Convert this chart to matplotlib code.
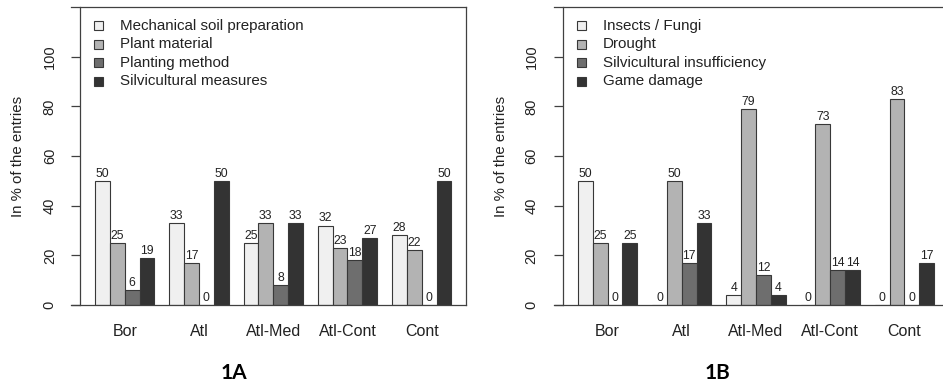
import matplotlib
matplotlib.use("Agg")
import matplotlib.pyplot as plt
from matplotlib.patches import Rectangle
import numpy as np

plt.rcParams['font.family'] = ['Liberation Sans', 'DejaVu Sans']

regions = ["Bor", "Atl", "Atl-Med", "Atl-Cont", "Cont"]

series_a = ["Mechanical soil preparation", "Plant material", "Planting method", "Silvicultural measures"]
mech_soil = [50, 33, 25, 32, 28]
plant_material = [25, 17, 33, 23, 22]
planting_method = [6, 0, 8, 18, 0]
silvi_measures = [19, 50, 33, 27, 50]

series_b = ["Insects / Fungi", "Drought", "Silvicultural insufficiency", "Game damage"]
insects_fungi = [50, 0, 4, 0, 0]
drought = [25, 50, 79, 73, 83]
silvi_insuff = [0, 17, 12, 14, 0]
game_damage = [25, 33, 4, 14, 17]

yticks = [0, 20, 40, 60, 80, 100]
panel_titles = ["1A", "1B"]

colors = ["#F0F0F0", "#B3B3B3", "#6E6E6E", "#333333"]
edge = "#383838"
txt = "#222222"

W, H = 943, 386
fig = plt.figure(figsize=(W / 100, H / 100), dpi=100)

ax_w_px = 386.0
ax_h_px = 298.0
axes_left_px = [80.2, 563.0]
ax_bottom_px = 305.0


def draw_panel(ax, data, labels, title, title_x, pad):
    n_series = len(data)
    n_groups = len(regions)
    for j, vals in enumerate(data):
        xs = np.array([1 + (n_series + 1) * g + j for g in range(n_groups)]) + 0.5
        ax.bar(xs, vals, width=1.0, color=colors[j], edgecolor=edge, linewidth=0.8, zorder=2)
        for x, v in zip(xs, vals):
            ax.annotate(str(v), (x, v), xytext=(0, 3), textcoords="offset points",
                        ha="center", va="baseline", fontsize=8.8, color=txt)
    centers = [1 + (n_series + 1) * g + n_series / 2 for g in range(n_groups)]
    ax.set_xlim(0, 26)
    ax.set_ylim(0, 120)
    ax.set_xticks(centers)
    ax.set_xticklabels(regions, fontsize=11.5, color=txt)
    ax.tick_params(axis="x", length=0, pad=13.5)
    ax.set_yticks(yticks)
    ax.set_yticklabels([str(t) for t in yticks], rotation=90, va="center", fontsize=10.5, color=txt)
    ax.tick_params(axis="y", length=6.8, width=0.9, color="#404040", pad=pad, direction="out")
    for s in ["top", "bottom", "right"]:
        ax.spines[s].set_visible(False)
    ax.spines["left"].set_color("#404040")
    ax.spines["left"].set_linewidth(0.9)
    ext = -9.5 / ax_w_px
    ax.plot([ext, 1], [0, 0], transform=ax.transAxes, clip_on=False, color="#404040", lw=0.9, zorder=3)
    ax.plot([ext, 1], [1, 1], transform=ax.transAxes, clip_on=False, color="#404040", lw=0.9, zorder=3)
    ax.plot([1, 1], [0, 1], transform=ax.transAxes, clip_on=False, color="#404040", lw=0.9, zorder=3)
    ax.set_ylabel("In % of the entries", fontsize=10.8, color=txt, va="center")
    ax.yaxis.set_label_coords(-62.0 / ax_w_px, 0.5)
    # legend
    row_y_px = [25.8, 44.3, 62.8, 81.3]
    for j, lab in enumerate(labels):
        yc = 1 - (row_y_px[j] - 7.0) / ax_h_px
        box = Rectangle((14.0 / ax_w_px, yc - 4.5 / ax_h_px), 9.0 / ax_w_px, 9.0 / ax_h_px,
                        transform=ax.transAxes, facecolor=colors[j], edgecolor=edge,
                        linewidth=0.8, clip_on=False)
        ax.add_patch(box)
        ax.text(40.0 / ax_w_px, yc, lab, transform=ax.transAxes, va="center", ha="left",
                fontsize=10.9, color=txt)
    fig.text(title_x / W, 1 - 373.0 / H, title, ha="center", va="center",
             fontsize=15, fontweight="bold", family=["Lato", "DejaVu Sans"], color="#000000")


ax1 = fig.add_axes([axes_left_px[0] / W, (H - ax_bottom_px) / H, ax_w_px / W, ax_h_px / H])
ax2 = fig.add_axes([axes_left_px[1] / W, (H - ax_bottom_px) / H, ax_w_px / W, ax_h_px / H])

draw_panel(ax1, [mech_soil, plant_material, planting_method, silvi_measures], series_a,
           panel_titles[0], 234.0, 10.0)
draw_panel(ax2, [insects_fungi, drought, silvi_insuff, game_damage], series_b,
           panel_titles[1], 717.0, 10.8)

fig.savefig("out.png", dpi=100)
